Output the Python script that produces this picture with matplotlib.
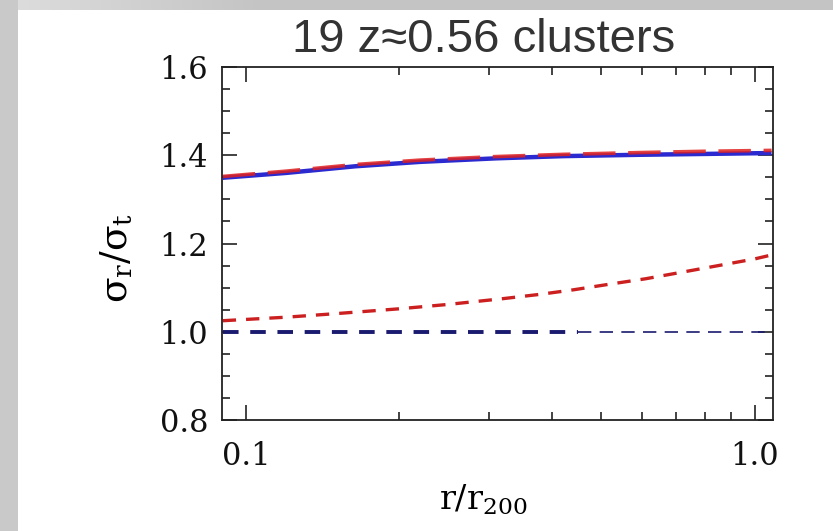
import numpy as np
import matplotlib.pyplot as plt
from matplotlib.ticker import FixedLocator, NullFormatter

# dados
r_sup = [0.09, 0.12, 0.164, 0.22, 0.31, 0.42, 0.59, 0.8, 1.08]
azul_sup = [1.349, 1.360, 1.375, 1.385, 1.393, 1.398, 1.401, 1.403, 1.405]
verm_sup = [1.352, 1.364, 1.379, 1.389, 1.397, 1.402, 1.406, 1.409, 1.411]

r_inf = [0.09, 0.12, 0.15, 0.2, 0.25, 0.32, 0.38, 0.44, 0.52, 0.61, 0.72, 0.84, 1.0, 1.08]
verm_inf = [1.025, 1.033, 1.041, 1.052, 1.062, 1.075, 1.085, 1.095, 1.108, 1.120, 1.135, 1.149, 1.165, 1.174]

r_iso_grosso = [0.09, 0.45]
r_iso_fino = [0.45, 1.07]
iso = 1.0

titulo = '19 z\u22480.56 clusters'
xticks_maj = [0.1, 1.0]
xticks_lab = ['0.1', '1.0']
yticks_maj = [0.8, 1.0, 1.2, 1.4, 1.6]

plt.rcParams['mathtext.fontset'] = 'dejavuserif'

fig = plt.figure(figsize=(8.33, 5.31), dpi=100)
fig.patch.set_facecolor('white')

# moldura cinza do slide
bg = fig.add_axes([0, 0, 1, 1], zorder=-10)
bg.axis('off')
grad = np.ones((531, 833, 3))
topo = np.full(833, 0.77)
topo[:260] = np.linspace(0.87, 0.77, 260)
grad[:10, :, :] = topo[None, :, None]
grad[:, :18, :] = 0.79
bg.imshow(grad, aspect='auto', extent=[0, 1, 0, 1], interpolation='bilinear')

ax = fig.add_axes([222/833, 1 - 420/531, (773 - 222)/833, (420 - 67)/531])
ax.set_xscale('log')

ax.plot(r_sup, azul_sup, color='#2a2ad0', lw=3.2, solid_capstyle='butt')
ax.plot(r_sup, verm_sup, color='#e02020', lw=2.6, dashes=(9, 3.5), alpha=0.85)
ax.plot(r_inf, verm_inf, color='#cc2020', lw=2.4, dashes=(4, 3))
ax.plot(r_iso_grosso, [iso, iso], color='#1a1a70', lw=2.8, dashes=(4, 3))
ax.plot(r_iso_fino, [iso, iso], color='#1a1a70', lw=1.2, dashes=(8, 5))

ax.set_xlim(0.0897, 1.087)
ax.set_ylim(0.8, 1.6)

ax.xaxis.set_major_locator(FixedLocator(xticks_maj))
ax.set_xticklabels(xticks_lab)
ax.xaxis.set_minor_locator(FixedLocator([0.2, 0.3, 0.4, 0.5, 0.6, 0.7, 0.8, 0.9]))
ax.xaxis.set_minor_formatter(NullFormatter())
ax.set_yticks(yticks_maj)
ax.set_yticklabels(['%.1f' % v for v in yticks_maj])
ax.set_yticks(np.arange(0.8, 1.601, 0.05), minor=True)

ax.tick_params(which='both', direction='in', top=True, right=True, color='#222222', width=1.2)
ax.tick_params(which='major', length=11)
ax.tick_params(which='minor', length=6)
ax.tick_params(axis='x', which='major', pad=15)
ax.tick_params(axis='y', which='major', pad=10)
for lab in ax.get_xticklabels() + ax.get_yticklabels():
    lab.set_fontfamily('DejaVu Serif')
    lab.set_fontsize(22)
    lab.set_color('#111111')
for sp in ax.spines.values():
    sp.set_linewidth(1.3)
    sp.set_color('#222222')

ax.set_xlabel(r'$\mathregular{r/r_{200}}$', fontfamily='DejaVu Serif', fontsize=24, va='center')
ax.xaxis.set_label_coords(0.475, -0.225)
ax.set_ylabel('\u03c3$_\\mathregular{r}$/\u03c3$_\\mathregular{t}$', fontfamily='DejaVu Serif',
              fontsize=27, va='center')
ax.yaxis.set_label_coords(-0.19, 0.46)

fig.text(484/833, 1 - 40/531, titulo, ha='center', va='center',
         fontfamily='Liberation Sans', fontsize=34, color='#333333')

plt.savefig('out.png', dpi=100)
plt.close()
